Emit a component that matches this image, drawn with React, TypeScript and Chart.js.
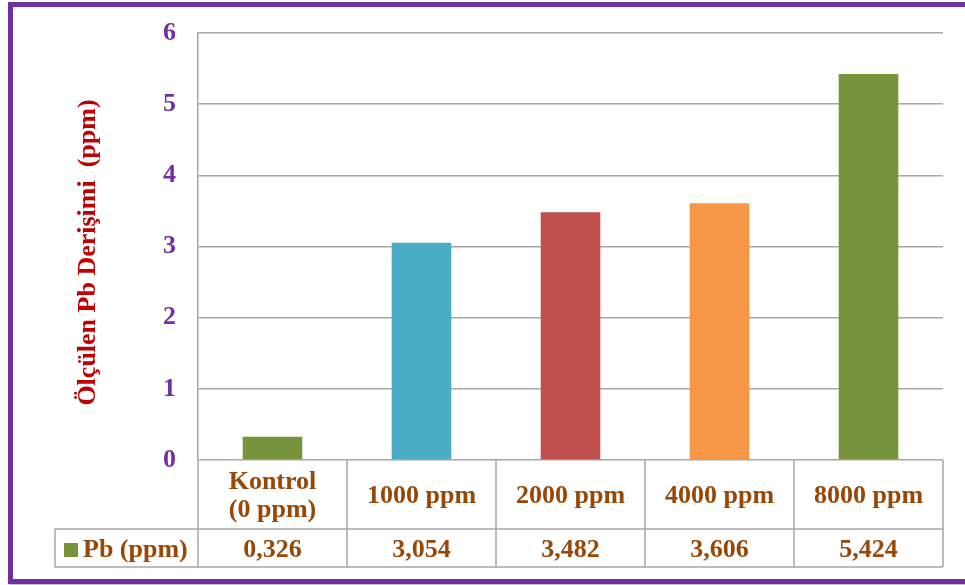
import React, { useEffect, useRef } from "react";
import { Chart, registerables } from "chart.js";

Chart.register(...registerables);

const categories: string[][] = [
  ["Kontrol", "(0 ppm)"],
  ["1000 ppm"],
  ["2000 ppm"],
  ["4000 ppm"],
  ["8000 ppm"],
];
const seriesName = "Pb (ppm)";
const pbValues = [0.326, 3.054, 3.482, 3.606, 5.424];
const barColors = ["#77933C", "#4BACC6", "#C0504D", "#F79646", "#77933C"];
const yTicks = [0, 1, 2, 3, 4, 5, 6];
const yTitle = "Ölçülen Pb Derişimi  (ppm)";

const FONT = "'Liberation Serif', 'Times New Roman', serif";
const TEXT_BROWN = "#974706";
const GRID = "#A6A6A6";

const tablePlugin = {
  id: "dataTable",
  afterDraw(chart: any) {
    const { ctx, chartArea } = chart;
    const left = chartArea.left;
    const right = chartArea.right;
    const top0 = chartArea.bottom;
    const headerBottom = top0 + 69;
    const rowBottom = headerBottom + 38;
    const legendLeft = 55;
    const n = categories.length;
    const colW = (right - left) / n;

    ctx.save();
    ctx.strokeStyle = GRID;
    ctx.lineWidth = 1.5;
    ctx.beginPath();
    ctx.moveTo(legendLeft, headerBottom);
    ctx.lineTo(right, headerBottom);
    ctx.moveTo(legendLeft, rowBottom);
    ctx.lineTo(right, rowBottom);
    ctx.moveTo(legendLeft, headerBottom);
    ctx.lineTo(legendLeft, rowBottom);
    for (let i = 0; i <= n; i++) {
      const x = left + i * colW;
      ctx.moveTo(x, top0);
      ctx.lineTo(x, rowBottom);
    }
    ctx.stroke();

    ctx.fillStyle = TEXT_BROWN;
    ctx.font = `bold 26px ${FONT}`;
    ctx.textAlign = "center";
    ctx.textBaseline = "middle";
    const xScale = chart.scales.x;
    categories.forEach((lines, i) => {
      const cx = xScale.getPixelForValue(i);
      const cy = (top0 + headerBottom) / 2 + 1.5;
      const lh = 28;
      lines.forEach((line, j) => {
        const y = cy + (j - (lines.length - 1) / 2) * lh;
        ctx.fillText(line, cx, y);
      });
      const v = pbValues[i].toFixed(3).replace(".", ",");
      ctx.fillText(v, cx, (headerBottom + rowBottom) / 2 + 2);
    });

    const ry = (headerBottom + rowBottom) / 2 + 2;
    ctx.fillStyle = barColors[0];
    ctx.fillRect(64, ry - 7, 14, 14);
    ctx.fillStyle = TEXT_BROWN;
    ctx.textAlign = "left";
    ctx.fillText(seriesName, 83, ry);

    ctx.save();
    ctx.translate(88, (chartArea.top + chartArea.bottom) / 2 + 6);
    ctx.rotate(-Math.PI / 2);
    ctx.fillStyle = "#C00000";
    ctx.textAlign = "center";
    ctx.textBaseline = "middle";
    ctx.fillText(yTitle, 0, 0);
    ctx.restore();

    ctx.restore();
  },
};

export default function App() {
  const ref = useRef<HTMLCanvasElement | null>(null);

  useEffect(() => {
    if (!ref.current) return;
    const chart = new Chart(ref.current, {
      type: "bar",
      data: {
        labels: categories.map((c) => c.join(" ")),
        datasets: [
          {
            label: seriesName,
            data: pbValues,
            backgroundColor: barColors,
            borderWidth: 0,
            barPercentage: 0.4,
            categoryPercentage: 1,
          },
        ],
      },
      options: {
        animation: false,
        responsive: false,
        devicePixelRatio: 1,
        layout: { padding: { left: 0, top: 33, right: 22, bottom: 125 } },
        plugins: {
          legend: { display: false },
          tooltip: { enabled: false },
          title: { display: false },
        },
        scales: {
          x: {
            display: false,
            offset: true,
          },
          y: {
            min: yTicks[0],
            max: yTicks[yTicks.length - 1],
            afterBuildTicks: (scale: any) => {
              scale.ticks = yTicks.map((v) => ({ value: v }));
            },
            afterFit: (scale: any) => {
              scale.width = 198;
              scale.paddingTop = 0;
              scale.paddingBottom = 0;
            },
            ticks: {
              color: "#7030A0",
              font: { family: FONT, size: 26, weight: "bold" },
              padding: 22,
            },
            grid: {
              color: GRID,
              lineWidth: 1.5,
              drawTicks: false,
            },
            border: { display: true, color: GRID, width: 1.5 },
          },
        },
      },
      plugins: [tablePlugin],
    });
    return () => chart.destroy();
  }, []);

  return (
    <div
      style={{
        position: "fixed",
        left: 0,
        top: 0,
        width: 965,
        height: 585,
        overflow: "hidden",
        background: "#ffffff",
      }}
    >
      <canvas
        ref={ref}
        width={965}
        height={585}
        style={{ position: "absolute", left: 0, top: 0, width: 965, height: 585 }}
      />
      <div
        style={{
          position: "absolute",
          left: 8,
          top: 2,
          width: 1000,
          height: 582,
          boxSizing: "border-box",
          border: "5px solid #7030A0",
          pointerEvents: "none",
          boxShadow: "1px 2px 2px rgba(0,0,0,0.25)",
        }}
      />
    </div>
  );
}
